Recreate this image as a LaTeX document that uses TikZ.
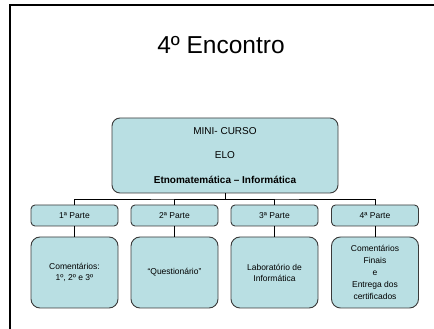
\documentclass[tikz,border=0pt]{standalone}
\usepackage{fontspec}
\setmainfont{Liberation Sans}
\usepackage{tikz}
\usepackage{xcolor}
\definecolor{boxfill}{HTML}{B9DFE3}
\definecolor{boxline}{HTML}{3A3A3A}

\begin{document}
\begin{tikzpicture}[x=1pt, y=1pt,
  every node/.style={align=center, inner sep=0pt},
  topbox/.style={draw=boxline, fill=boxfill, line width=0.9pt, rounded corners=8pt,
    minimum width=226pt, minimum height=75pt, font=\fontsize{10}{12}\selectfont},
  partbox/.style={draw=boxline, fill=boxfill, line width=0.9pt, rounded corners=4pt,
    minimum width=87pt, minimum height=21pt, font=\fontsize{8.5}{11}\selectfont},
  infobox/.style={draw=boxline, fill=boxfill, line width=0.9pt, rounded corners=9pt,
    minimum width=87pt, minimum height=71pt, font=\fontsize{8.5}{12}\selectfont},
  link/.style={draw=black, line width=0.9pt}
]
  \clip (0,0) rectangle (434,329);
  % slide frame (only left and top edges visible)
  \draw[line width=2pt] (10,-10) -- (10,324) -- (450,324);

  % title
  \node (title) at (221,284) {\fontsize{24.5}{29}\selectfont 4º Encontro};

  % main box
  \node[topbox] (curso) at (225,173.5)
    {MINI- CURSO\\[12.5pt]ELO\\[12.5pt]\textbf{Etnomatemática – Informática}};

  % parts
  \node[partbox] (p1) at (74.5,113.5) {1ª Parte};
  \node[partbox] (p2) at (174.5,113.5) {2ª Parte};
  \node[partbox] (p3) at (274.5,113.5) {3ª Parte};
  \node[partbox] (p4) at (375,113.5) {4ª Parte};

  % contents
  \node[infobox] (c1) at (74.5,56.5) {Comentários:\\[-1pt]1º, 2º e 3º};
  \node[infobox] (c2) at (174.5,56.5) {“Questionário”};
  \node[infobox] (c3) at (274.5,56.5) {Laboratório de\\[-1pt]Informática};
  \node[infobox] (c4) at (375,56.5) {Comentários\\Finais\\e\\Entrega dos\\certificados};

  % connectors
  \coordinate (bar) at (225,130);
  \draw[link] (curso.south) -- (bar);
  \draw[link] (p1.north) |- (bar) -| (p4.north);
  \draw[link] (p2.north) |- (bar);
  \draw[link] (p3.north) |- (bar);
  \foreach \i in {1,...,4}
    \draw[link] (p\i.south) -- (c\i.north);
\end{tikzpicture}
\end{document}
